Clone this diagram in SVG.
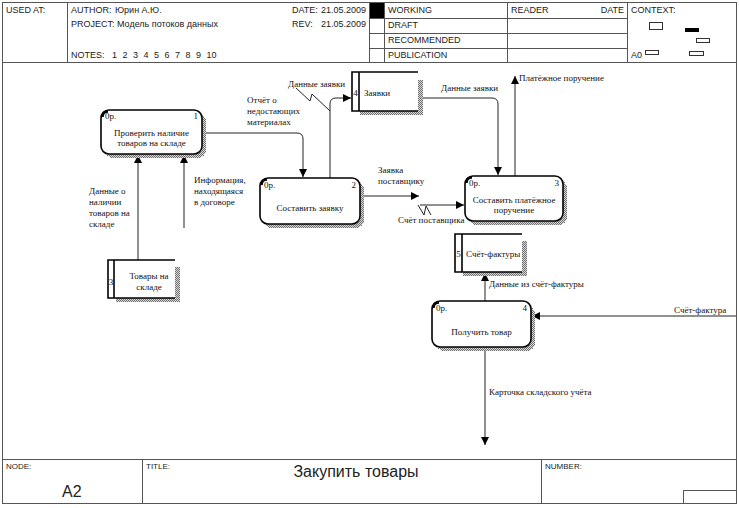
<svg xmlns="http://www.w3.org/2000/svg" width="739" height="508" viewBox="0 0 739 508">
<defs>
<pattern id="hatch" width="2" height="2" patternUnits="userSpaceOnUse">
<rect width="2" height="2" fill="#d8d8d8"/>
<rect width="1" height="1" fill="#707070"/>
<rect x="1" y="1" width="1" height="1" fill="#707070"/>
</pattern>
<marker id="ah" viewBox="0 0 10 10" refX="10" refY="5" markerWidth="8" markerHeight="8" markerUnits="userSpaceOnUse" orient="auto">
<path d="M0,0 L10,5 L0,10 z" fill="#000"/>
</marker>
</defs>
<style>
.frame{fill:none;stroke:#555;stroke-width:1}
.hd{font-family:"Liberation Sans",Arial,sans-serif;font-size:9px;fill:#222}
.lb{font-family:"Liberation Serif","Times New Roman",serif;font-size:9px;fill:#111}
.box{fill:#fff;stroke:#000;stroke-width:1.6}
.sh{fill:url(#hatch);shape-rendering:crispEdges}
.con{fill:none;stroke:#222;stroke-width:1}
.st{fill:none;stroke:#000;stroke-width:1.6}
</style>
<rect width="739" height="508" fill="#fff"/>
<!-- header -->
<g id="header">
<rect class="frame" x="2.5" y="2.5" width="734" height="60"/>
<line class="frame" x1="67.5" y1="2.5" x2="67.5" y2="62.5"/>
<line class="frame" x1="369.5" y1="2.5" x2="369.5" y2="62.5"/>
<line class="frame" x1="384.5" y1="2.5" x2="384.5" y2="62.5"/>
<line class="frame" x1="507.5" y1="2.5" x2="507.5" y2="62.5"/>
<line class="frame" x1="627.5" y1="2.5" x2="627.5" y2="62.5"/>
<line class="frame" x1="369.5" y1="18.5" x2="627.5" y2="18.5"/>
<line class="frame" x1="369.5" y1="33.5" x2="627.5" y2="33.5"/>
<line class="frame" x1="369.5" y1="48.5" x2="627.5" y2="48.5"/>
<rect x="370" y="3" width="14" height="15" fill="#000"/>
<text class="hd" x="6" y="13">USED AT:</text>
<text class="hd" x="71" y="13">AUTHOR:</text>
<text class="hd" x="115" y="13">Юрин А.Ю.</text>
<text class="hd" x="71" y="27">PROJECT:</text>
<text class="hd" x="117" y="27">Модель потоков данных</text>
<text class="hd" x="71" y="58">NOTES:</text>
<text class="hd" x="112" y="58" word-spacing="3">1 2 3 4 5 6 7 8 9 10</text>
<text class="hd" x="292" y="13">DATE:</text>
<text class="hd" x="321" y="13">21.05.2009</text>
<text class="hd" x="292" y="27">REV:</text>
<text class="hd" x="321" y="27">21.05.2009</text>
<text class="hd" x="388" y="13">WORKING</text>
<text class="hd" x="388" y="28">DRAFT</text>
<text class="hd" x="388" y="43">RECOMMENDED</text>
<text class="hd" x="388" y="58">PUBLICATION</text>
<text class="hd" x="511" y="13">READER</text>
<text class="hd" x="624" y="13" text-anchor="end">DATE</text>
<text class="hd" x="631" y="13">CONTEXT:</text>
<rect x="649.5" y="22.5" width="13" height="7" fill="#fff" stroke="#333" stroke-width="1"/>
<rect x="685" y="28" width="14" height="4" fill="#000"/>
<rect x="696.5" y="38.5" width="13" height="4" fill="#fff" stroke="#333" stroke-width="1"/>
<text class="hd" x="631" y="58">A0</text>
<rect x="645.5" y="50.5" width="13" height="4" fill="#fff" stroke="#333" stroke-width="1"/>
<rect x="689.5" y="51.5" width="14" height="4" fill="#fff" stroke="#333" stroke-width="1"/>
</g>
<!-- main frame -->
<rect class="frame" x="2.5" y="62.5" width="734" height="397"/>
<!-- footer -->
<g id="footer">
<rect class="frame" x="2.5" y="459.5" width="734" height="44"/>
<line class="frame" x1="142.5" y1="459.5" x2="142.5" y2="503.5"/>
<line class="frame" x1="541.5" y1="459.5" x2="541.5" y2="503.5"/>
<rect class="frame" x="683.5" y="490.5" width="53" height="13"/>
<text class="hd" x="6" y="469" style="font-size:8px">NODE:</text>
<text class="hd" x="62" y="497" style="font-size:16px">A2</text>
<text class="hd" x="146" y="469" style="font-size:8px">TITLE:</text>
<text class="hd" x="356" y="477" text-anchor="middle" style="font-size:16px">Закупить товары</text>
<text class="hd" x="545" y="469" style="font-size:8px">NUMBER:</text>
</g>
<!-- connectors -->
<g id="connectors">
<path class="con" d="M202,133 H297 Q303,133 303,139 V177" marker-end="url(#ah)"/>
<text class="lb" x="247" y="103">Отчёт о</text>
<text class="lb" x="247" y="114">недостающих</text>
<text class="lb" x="247" y="125">материалах</text>
<path class="con" d="M330,178 V104 Q330,98 336,98 H351" marker-end="url(#ah)"/>
<polyline class="con" points="296,88 310,101 312,94 330,111"/>
<text class="lb" x="288" y="87">Данные заявки</text>
<path class="con" d="M418,98 H492 Q498,98 498,104 V175" marker-end="url(#ah)"/>
<text class="lb" x="441" y="91">Данные заявки</text>
<path class="con" d="M515,176 V76" marker-end="url(#ah)"/>
<text class="lb" x="519" y="81">Платёжное поручение</text>
<path class="con" d="M360,196 H419" marker-end="url(#ah)"/>
<text class="lb" x="378" y="173">Заявка</text>
<text class="lb" x="378" y="184">поставщику</text>
<path class="con" d="M420,205 H464" marker-end="url(#ah)"/>
<polyline class="con" points="418,205 424,215 426,206 431,215"/>
<text class="lb" x="398" y="223">Счёт поставщика</text>
<path class="con" d="M138,260 V155" marker-end="url(#ah)"/>
<text class="lb" x="89" y="194">Данные о</text>
<text class="lb" x="89" y="205">наличии</text>
<text class="lb" x="89" y="216">товаров на</text>
<text class="lb" x="89" y="227">складе</text>
<path class="con" d="M184,228 V155" marker-end="url(#ah)"/>
<text class="lb" x="194" y="183">Информация,</text>
<text class="lb" x="194" y="194">находящаяся</text>
<text class="lb" x="194" y="205">в договоре</text>
<path class="con" d="M485,301 V273" marker-end="url(#ah)"/>
<text class="lb" x="489" y="287">Данные из счёт-фактуры</text>
<path class="con" d="M736,316 H532" marker-end="url(#ah)"/>
<text class="lb" x="674" y="313">Счёт-фактура</text>
<path class="con" d="M485,347 V445" marker-end="url(#ah)"/>
<text class="lb" x="489" y="395">Карточка складского учёта</text>
</g>
<!-- process 1 -->
<g id="p1">
<rect class="sh" x="105" y="114" width="101" height="44" rx="8"/>
<rect class="box" x="101" y="110" width="101" height="44" rx="8"/>
<path d="M102.5,117 Q102.5,111.5 108,111.5" fill="none" stroke="#000" stroke-width="2.5"/>
<text class="lb" x="105" y="119">0р.</text>
<text class="lb" x="198" y="119" text-anchor="end">1</text>
<text class="lb" x="151.5" y="136" text-anchor="middle">Проверить наличие</text>
<text class="lb" x="151.5" y="146" text-anchor="middle">товаров на складе</text>
</g>
<!-- process 2 -->
<g id="p2">
<rect class="sh" x="264" y="182" width="100" height="46" rx="8"/>
<rect class="box" x="260" y="178" width="100" height="46" rx="8"/>
<path d="M261.5,185 Q261.5,179.5 267,179.5" fill="none" stroke="#000" stroke-width="2.5"/>
<text class="lb" x="264" y="188">0р.</text>
<text class="lb" x="356" y="188" text-anchor="end">2</text>
<text class="lb" x="310" y="211" text-anchor="middle">Составить заявку</text>
</g>
<!-- process 3 -->
<g id="p3">
<rect class="sh" x="469" y="180" width="98" height="45" rx="8"/>
<rect class="box" x="465" y="176" width="98" height="45" rx="8"/>
<path d="M466.5,183 Q466.5,177.5 472,177.5" fill="none" stroke="#000" stroke-width="2.5"/>
<text class="lb" x="469" y="186">0р.</text>
<text class="lb" x="559" y="186" text-anchor="end">3</text>
<text class="lb" x="514" y="203" text-anchor="middle">Составить платёжное</text>
<text class="lb" x="514" y="213" text-anchor="middle">поручение</text>
</g>
<!-- process 4 -->
<g id="p4">
<rect class="sh" x="436" y="306" width="99" height="45" rx="8"/>
<rect class="box" x="432" y="301" width="99" height="46" rx="8"/>
<path d="M433.5,308 Q433.5,302.5 439,302.5" fill="none" stroke="#000" stroke-width="2.5"/>
<text class="lb" x="436" y="311">0р.</text>
<text class="lb" x="527" y="311" text-anchor="end">4</text>
<text class="lb" x="481.5" y="335" text-anchor="middle">Получить товар</text>
</g>
<!-- store 4 -->
<g id="s4">
<rect class="sh" x="418" y="80" width="5" height="35"/>
<rect class="sh" x="360" y="111" width="63" height="4"/>
<rect x="352" y="72" width="66" height="39" fill="#fff"/>
<path class="st" d="M418,72 H352 V111 H418 M359,72 V111"/>
<text class="lb" x="355.5" y="96" text-anchor="middle">4</text>
<text class="lb" x="364" y="96">Заявки</text>
</g>
<!-- store 3 -->
<g id="s3">
<rect class="sh" x="175" y="267" width="5" height="35"/>
<rect class="sh" x="116" y="298" width="64" height="4"/>
<rect x="108" y="260" width="67" height="38" fill="#fff"/>
<path class="st" d="M175,260 H108 V298 H175 M114,260 V298"/>
<text class="lb" x="111" y="285" text-anchor="middle">3</text>
<text class="lb" x="149" y="279" text-anchor="middle">Товары на</text>
<text class="lb" x="149" y="290" text-anchor="middle">складе</text>
</g>
<!-- store 5 -->
<g id="s5">
<rect class="sh" x="522" y="241" width="5" height="35"/>
<rect class="sh" x="463" y="272" width="64" height="4"/>
<rect x="455" y="234" width="67" height="38" fill="#fff"/>
<path class="st" d="M522,234 H455 V272 H522 M462,234 V272"/>
<text class="lb" x="458.5" y="257" text-anchor="middle">5</text>
<text class="lb" x="466" y="257">Счёт-фактуры</text>
</g>
</svg>
